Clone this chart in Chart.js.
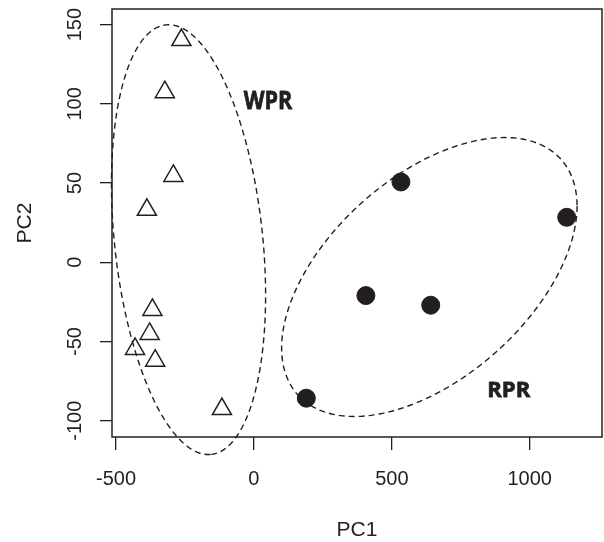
<!DOCTYPE html>
<html lang="en">
<head>
    <meta charset="UTF-8">
    <title>PC1 vs PC2</title>
    <script src="https://cdn.jsdelivr.net/npm/chart.js"></script>
    <style>
        body { margin: 0; padding: 0; background: #fff; }
        #wrap { width: 604px; height: 542px; }
    </style>
</head>
<body>
    <div id="wrap"><canvas id="pcaChart" width="604" height="542"></canvas></div>

    <script>
        // tick labels
        const xTicks = [-500, 0, 500, 1000];
        const yTicks = [-100, -50, 0, 50, 100, 150];

        // WPR samples (open triangles)
        const wprX = [-263, -323, -292, -388, -368, -378, -431, -358, -116];
        const wprY = [140.3, 107.4, 54.5, 33.1, -30.1, -45.2, -54.7, -62.1, -92.7];

        // RPR samples (filled circles)
        const rprX = [533, 1134, 406, 641, 190];
        const rprY = [50.7, 28.4, -21.0, -27.1, -85.8];

        // group ellipses: centre, then two half-axis vectors (data units)
        const wprEllipse = { cx: -237, cy: 14.3, ax: 81.7, ay: -135.6, bx: 267.2, by: 4.9 };
        const rprEllipse = { cx: 636, cy: -9.3, ax: 535.6, ay: 44.8, bx: 0, by: -75.8 };

        // group labels (data coords of text centre)
        const groupLabels = [
            { text: 'WPR', x: 51, y: 102.1 },
            { text: 'RPR', x: 924, y: -80.6 }
        ];

        const ink = '#231f20';

        const toPoints = (xs, ys) => xs.map((x, i) => ({ x: x, y: ys[i] }));

        // no extra label padding, keep plot box where we want it
        const noPad = s => {
            s.paddingTop = 0; s.paddingBottom = 0;
            s.paddingLeft = 0; s.paddingRight = 0;
        };

        const groupPlugin = {
            id: 'groups',
            afterDraw(chart) {
                const { ctx, chartArea, scales } = chart;
                const xs = scales.x, ys = scales.y;

                // plot box
                ctx.save();
                ctx.strokeStyle = ink;
                ctx.lineWidth = 1.5;
                ctx.strokeRect(chartArea.left, chartArea.top,
                    chartArea.right - chartArea.left, chartArea.bottom - chartArea.top);
                ctx.restore();

                // dashed ellipses
                [wprEllipse, rprEllipse].forEach(e => {
                    ctx.save();
                    ctx.strokeStyle = ink;
                    ctx.lineWidth = 1.4;
                    ctx.setLineDash([6, 4]);
                    ctx.beginPath();
                    for (let k = 0; k <= 200; k++) {
                        const t = k / 200 * Math.PI * 2;
                        const vx = e.cx + e.ax * Math.cos(t) + e.bx * Math.sin(t);
                        const vy = e.cy + e.ay * Math.cos(t) + e.by * Math.sin(t);
                        const px = xs.getPixelForValue(vx);
                        const py = ys.getPixelForValue(vy);
                        if (k === 0) ctx.moveTo(px, py); else ctx.lineTo(px, py);
                    }
                    ctx.stroke();
                    ctx.restore();
                });

                // WPR / RPR labels (heavy bold, slight stroke to thicken)
                groupLabels.forEach((g, i) => {
                    ctx.save();
                    ctx.fillStyle = ink;
                    ctx.strokeStyle = ink;
                    ctx.lineWidth = 0.8;
                    ctx.lineJoin = 'round';
                    ctx.textAlign = 'center';
                    ctx.textBaseline = 'middle';
                    ctx.translate(xs.getPixelForValue(g.x), ys.getPixelForValue(g.y));
                    if (i === 0) {
                        ctx.scale(0.86, 1);
                        ctx.font = 'bold 25px "Open Sans"';
                    } else {
                        ctx.font = 'bold 22px "Open Sans"';
                    }
                    ctx.fillText(g.text, 0, 1);
                    ctx.strokeText(g.text, 0, 1);
                    ctx.restore();
                });
            }
        };

        const ctx = document.getElementById('pcaChart').getContext('2d');
        const chart = new Chart(ctx, {
            type: 'scatter',
            data: {
                datasets: [{
                    label: 'WPR',
                    data: toPoints(wprX, wprY),
                    pointStyle: 'triangle',
                    pointRadius: 11,
                    pointHoverRadius: 11,
                    backgroundColor: 'rgba(255,255,255,0)',
                    borderColor: ink,
                    borderWidth: 1.5
                }, {
                    label: 'RPR',
                    data: toPoints(rprX, rprY),
                    pointStyle: 'circle',
                    pointRadius: 9,
                    pointHoverRadius: 9,
                    backgroundColor: ink,
                    borderColor: ink,
                    borderWidth: 1
                }]
            },
            options: {
                responsive: false,
                animation: false,
                devicePixelRatio: 1,
                layout: { autoPadding: false, padding: { left: 0, right: 2, top: 9, bottom: 0 } },
                plugins: {
                    legend: { display: false },
                    tooltip: { enabled: false }
                },
                scales: {
                    x: {
                        type: 'linear',
                        min: -514.5,
                        max: 1262,
                        afterBuildTicks: s => { s.ticks = xTicks.map(v => ({ value: v })); },
                        afterFit: s => { s.height = 105; noPad(s); },
                        border: { display: false },
                        grid: { display: true, drawOnChartArea: false, drawTicks: true, tickLength: 13, color: ink, lineWidth: 1.3 },
                        ticks: {
                            autoSkip: false,
                            maxRotation: 0,
                            padding: 17,
                            color: ink,
                            callback: v => String(v),
                            font: { family: '"Liberation Sans", Arial, sans-serif', size: 20 }
                        },
                        title: {
                            display: true,
                            text: 'PC1',
                            color: ink,
                            font: { family: '"Liberation Sans", Arial, sans-serif', size: 21, lineHeight: 1 },
                            padding: { top: 0, bottom: 1 }
                        }
                    },
                    y: {
                        type: 'linear',
                        min: -110.3,
                        max: 159.9,
                        afterBuildTicks: s => { s.ticks = yTicks.map(v => ({ value: v })); },
                        afterFit: s => { s.width = 112; noPad(s); },
                        border: { display: false },
                        grid: { display: true, drawOnChartArea: false, drawTicks: true, tickLength: 12, color: ink, lineWidth: 1.3 },
                        ticks: {
                            autoSkip: false,
                            minRotation: 90,
                            maxRotation: 90,
                            crossAlign: 'center',
                            padding: 5,
                            color: ink,
                            callback: v => String(v),
                            font: { family: '"Liberation Sans", Arial, sans-serif', size: 20 }
                        },
                        title: {
                            display: true,
                            text: 'PC2',
                            color: ink,
                            font: { family: '"Liberation Sans", Arial, sans-serif', size: 21, lineHeight: 1 },
                            padding: { top: 14.5, bottom: 0 }
                        }
                    }
                }
            },
            plugins: [groupPlugin]
        });
    </script>
</body>
</html>
